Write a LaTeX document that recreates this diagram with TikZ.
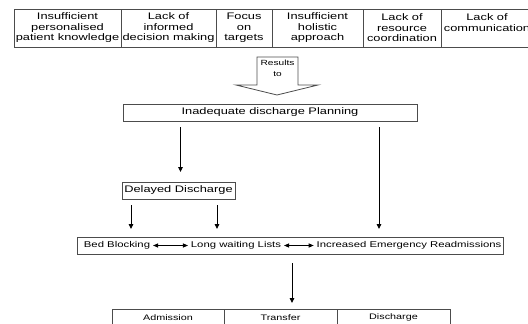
\documentclass[tikz,border=0pt]{standalone}
\usepackage{fontspec}
\setmainfont{Liberation Sans}[FakeStretch=1.35]
\usetikzlibrary{arrows.meta,positioning}

\begin{document}
\begin{tikzpicture}[->,>={Triangle[length=5pt,width=4.5pt]},x=1pt,y=-1pt,
                    line width=0.9pt]
  \tikzstyle{cause}=[draw=black!70,rectangle,minimum height=38pt,inner sep=1pt,outer sep=0pt,
                     align=center,font=\fontsize{9.5}{10.5}\selectfont]
  \tikzstyle{box}=[draw=black!70,rectangle,minimum height=17pt,inner sep=1pt,outer sep=0pt,
                   font=\fontsize{9.5}{10.5}\selectfont]
  \tikzstyle{stage}=[draw=black!70,rectangle,minimum height=17pt,minimum width=113pt,inner sep=1pt,
                     outer sep=0pt,font=\fontsize{8}{10}\selectfont]
  \tikzstyle{effect}=[inner sep=2.5pt,font=\fontsize{8.4}{10}\selectfont]
  \tikzstyle{gap}=[shorten <=6pt,shorten >=8pt]

  \useasboundingbox (0,0) rectangle (528,324);
  \clip (0,0) rectangle (528,324);

  \node[cause,minimum width=107pt] (knowledge) at (67.5,28) {Insufficient\\personalised\\patient knowledge};
  \node[cause,minimum width=95pt]  (decision) [right=0pt of knowledge] {Lack of\\informed\\decision making};
  \node[cause,minimum width=56pt]  (targets) [right=0pt of decision] {Focus\\on\\targets};
  \node[cause,minimum width=91pt]  (holistic) [right=0pt of targets] {Insufficient\\holistic\\approach};
  \node[cause,minimum width=78pt]  (resource) [right=0pt of holistic] {Lack of\\resource\\coordination};
  \node[cause,minimum width=92pt]  (communication) [right=0pt of resource] {Lack of\\communication\\~};

  % hollow arrow
  \draw[-,draw=black!70,line width=0.8pt] (257,57) -- (298,57) -- (298,85) -- (318,85) -- (277,95)
        -- (236,85) -- (257,85) -- cycle;
  \node[align=center,font=\fontsize{7.5}{10.5}\selectfont] (results) at (277.5,68.5) {Results\\to};

  \node[box,minimum width=294pt] (planning) at (270,112.5) {Inadequate discharge Planning};
  \node[box,minimum width=113pt] (delayed) at (178.5,190.5) {Delayed Discharge};

  \node[box,minimum width=426pt] (effects) at (290,245.5) {};
  \node[effect] (bed)   at (117,245.5) {Bed Blocking};
  \node[effect] (wait)  at (236,245.5) {Long waiting Lists};
  \node[effect] (readm) at (409,245.5) {Increased Emergency Readmissions};

  \node[stage,minimum width=112pt] (admission) at (168,317.5) {Admission};
  \node[stage] (transfer) [right=0pt of admission] {Transfer};
  \node[stage] (discharge) [right=0pt of transfer] {Discharge};

  \path[gap] ([xshift=2pt]planning.south -| delayed) edge[shorten >=10pt] ([xshift=2pt]delayed.north)
       ([xshift=-38pt]planning.south east) edge ([xshift=-38pt]planning.south east |- effects.north)
       ([xshift=9pt]delayed.south west) edge ([xshift=9pt]delayed.south west |- effects.north)
       ([xshift=-18pt]delayed.south east) edge ([xshift=-18pt]delayed.south east |- effects.north)
       ([xshift=2pt]effects.south) edge[shorten <=9pt,shorten >=6pt] ([xshift=2pt]effects.south |- transfer.north);

  \path[<->,>={Triangle[length=5pt,width=4pt]}] (bed) edge (wait)
       (wait) edge (readm);
\end{tikzpicture}
\end{document}
